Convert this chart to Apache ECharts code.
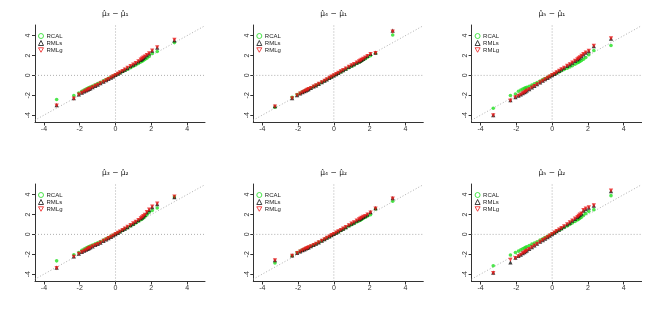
<!DOCTYPE html>
<html><head><meta charset="utf-8">
<script src="https://cdn.jsdelivr.net/npm/echarts@6/dist/echarts.min.js"></script>
<style>html,body{margin:0;padding:0;background:#fff}#c{width:655px;height:317px}</style>
</head><body><div id="c"></div>
<script>
// theoretical normal quantiles (x positions)
const qx = [-3.29,-2.33,-2.05,-1.88,-1.75,-1.64,-1.55,-1.48,-1.41,-1.28,-1.13,-0.99,-0.84,-0.67,-0.52,-0.39,-0.25,-0.13,0,0.13,0.25,0.39,0.52,0.67,0.84,0.99,1.13,1.28,1.41,1.48,1.55,1.64,1.75,1.88,2.05,2.33,3.29];
const seriesNames = ['RCAL','RMLs','RMLg'];
const panelTitles = ['\u03bc\u0302\u2083 \u2212 \u03bc\u0302\u2081','\u03bc\u0302\u2084 \u2212 \u03bc\u0302\u2081','\u03bc\u0302\u2085 \u2212 \u03bc\u0302\u2081','\u03bc\u0302\u2083 \u2212 \u03bc\u0302\u2082','\u03bc\u0302\u2084 \u2212 \u03bc\u0302\u2082','\u03bc\u0302\u2085 \u2212 \u03bc\u0302\u2082'];
const tickValues = [-4,-2,0,2,4];

// panel 1: mu3 - mu1
const rcal1 = [-2.43,-2.03,-1.77,-1.6,-1.47,-1.38,-1.3,-1.24,-1.18,-1.07,-0.94,-0.82,-0.69,-0.55,-0.42,-0.3,-0.18,-0.07,0.04,0.15,0.26,0.38,0.5,0.63,0.78,0.92,1.05,1.2,1.34,1.42,1.5,1.6,1.73,1.9,2.2,2.4,3.3];
const rmls1 = [-3.0,-2.3,-1.92,-1.74,-1.61,-1.52,-1.44,-1.37,-1.31,-1.19,-1.05,-0.93,-0.79,-0.63,-0.49,-0.36,-0.22,-0.09,0.04,0.17,0.3,0.44,0.58,0.74,0.92,1.08,1.23,1.41,1.56,1.66,1.76,1.88,2.03,2.2,2.48,2.8,3.52];
const rmlg1 = [-3.03,-2.33,-1.93,-1.75,-1.62,-1.53,-1.45,-1.38,-1.32,-1.2,-1.06,-0.94,-0.8,-0.64,-0.5,-0.37,-0.23,-0.1,0.03,0.16,0.3,0.44,0.58,0.75,0.93,1.09,1.24,1.42,1.58,1.68,1.78,1.9,2.05,2.22,2.5,2.83,3.57];
// panel 2: mu4 - mu1
const rcal2 = [-3.2,-2.2,-1.93,-1.78,-1.66,-1.57,-1.49,-1.43,-1.37,-1.26,-1.12,-1.0,-0.86,-0.7,-0.55,-0.42,-0.28,-0.15,-0.02,0.1,0.22,0.35,0.48,0.62,0.78,0.92,1.05,1.2,1.33,1.4,1.48,1.57,1.68,1.82,1.97,2.23,4.07];
const rmls2 = [-3.1,-2.28,-1.98,-1.82,-1.69,-1.59,-1.51,-1.44,-1.38,-1.26,-1.12,-1.0,-0.85,-0.68,-0.53,-0.4,-0.26,-0.12,0.01,0.13,0.26,0.4,0.53,0.68,0.85,1.0,1.13,1.29,1.42,1.49,1.57,1.67,1.8,1.95,2.15,2.3,4.5];
const rmlg2 = [-3.13,-2.3,-2.0,-1.83,-1.7,-1.6,-1.52,-1.45,-1.39,-1.27,-1.13,-1.01,-0.86,-0.69,-0.54,-0.4,-0.26,-0.13,0.0,0.13,0.26,0.4,0.53,0.68,0.85,1.0,1.13,1.29,1.42,1.5,1.57,1.67,1.8,1.95,2.13,2.25,4.4];
// panel 3: mu5 - mu1
const rcal3 = [-3.3,-2.03,-1.87,-1.6,-1.47,-1.38,-1.31,-1.26,-1.2,-1.09,-0.96,-0.84,-0.71,-0.56,-0.43,-0.31,-0.19,-0.08,0.03,0.13,0.23,0.35,0.46,0.59,0.72,0.85,0.97,1.12,1.26,1.33,1.4,1.5,1.63,1.8,2.07,2.5,3.0];
const rmls3 = [-4.0,-2.5,-2.18,-2.03,-1.91,-1.78,-1.68,-1.6,-1.52,-1.38,-1.21,-1.06,-0.89,-0.7,-0.54,-0.39,-0.25,-0.11,0.03,0.16,0.3,0.45,0.6,0.77,0.95,1.11,1.27,1.46,1.61,1.7,1.8,1.94,2.1,2.28,2.45,2.95,3.7];
const rmlg3 = [-4.03,-2.53,-2.2,-2.05,-1.93,-1.8,-1.7,-1.62,-1.54,-1.4,-1.22,-1.07,-0.9,-0.71,-0.55,-0.4,-0.26,-0.12,0.02,0.16,0.3,0.45,0.6,0.77,0.96,1.12,1.28,1.47,1.62,1.72,1.82,1.96,2.13,2.3,2.47,2.97,3.73];
// panel 4: mu3 - mu2
const rcal4 = [-2.66,-2.05,-1.82,-1.6,-1.47,-1.38,-1.3,-1.24,-1.18,-1.07,-0.95,-0.85,-0.72,-0.57,-0.44,-0.32,-0.2,-0.08,0.03,0.15,0.27,0.4,0.53,0.68,0.85,1.0,1.14,1.32,1.47,1.56,1.66,1.78,1.98,2.2,2.4,2.65,3.77];
const rmls4 = [-3.35,-2.22,-1.93,-1.76,-1.64,-1.54,-1.45,-1.38,-1.32,-1.2,-1.07,-0.96,-0.82,-0.66,-0.51,-0.38,-0.24,-0.1,0.03,0.16,0.29,0.44,0.58,0.74,0.92,1.09,1.25,1.44,1.6,1.7,1.8,1.95,2.22,2.45,2.75,3.05,3.75];
const rmlg4 = [-3.4,-2.25,-1.95,-1.78,-1.65,-1.55,-1.46,-1.39,-1.33,-1.21,-1.08,-0.97,-0.83,-0.66,-0.52,-0.38,-0.24,-0.11,0.02,0.16,0.29,0.44,0.59,0.75,0.93,1.1,1.26,1.45,1.62,1.72,1.83,1.97,2.25,2.5,2.8,3.1,3.8];
// panel 5: mu4 - mu2
const rcal5 = [-2.87,-2.15,-1.82,-1.68,-1.57,-1.49,-1.42,-1.36,-1.3,-1.19,-1.06,-0.94,-0.8,-0.64,-0.5,-0.37,-0.23,-0.11,0.01,0.13,0.25,0.38,0.52,0.67,0.84,0.98,1.1,1.24,1.36,1.42,1.5,1.6,1.72,1.84,1.98,2.55,3.33];
const rmls5 = [-2.6,-2.12,-1.86,-1.71,-1.59,-1.5,-1.42,-1.36,-1.3,-1.19,-1.06,-0.94,-0.8,-0.63,-0.48,-0.34,-0.2,-0.07,0.05,0.17,0.3,0.44,0.58,0.74,0.92,1.07,1.21,1.37,1.51,1.59,1.66,1.75,1.84,1.99,2.25,2.65,3.65];
const rmlg5 = [-2.62,-2.15,-1.88,-1.72,-1.6,-1.51,-1.43,-1.37,-1.31,-1.2,-1.07,-0.95,-0.81,-0.64,-0.49,-0.35,-0.21,-0.08,0.04,0.17,0.3,0.44,0.58,0.74,0.92,1.08,1.22,1.38,1.52,1.6,1.67,1.76,1.85,2.0,2.2,2.6,3.6];
// panel 6: mu5 - mu2
const rcal6 = [-3.16,-2.08,-1.82,-1.68,-1.56,-1.45,-1.37,-1.3,-1.24,-1.12,-0.98,-0.87,-0.74,-0.58,-0.45,-0.33,-0.2,-0.08,0.04,0.16,0.28,0.41,0.54,0.69,0.85,1.0,1.14,1.3,1.45,1.53,1.62,1.73,1.92,2.1,2.32,2.49,3.9];
const rmls6 = [-3.85,-2.82,-2.35,-2.17,-2.03,-1.88,-1.78,-1.69,-1.61,-1.46,-1.29,-1.12,-0.94,-0.74,-0.57,-0.42,-0.27,-0.12,0.03,0.18,0.32,0.48,0.64,0.81,1.01,1.19,1.37,1.56,1.73,1.84,1.95,2.08,2.4,2.55,2.68,2.9,4.35];
const rmlg6 = [-3.9,-2.55,-2.39,-2.2,-2.05,-1.9,-1.8,-1.71,-1.63,-1.48,-1.3,-1.13,-0.95,-0.75,-0.58,-0.43,-0.28,-0.13,0.02,0.17,0.32,0.48,0.64,0.82,1.02,1.2,1.38,1.58,1.75,1.86,1.98,2.1,2.45,2.6,2.72,2.92,4.4];

const panels = [[rcal1,rmls1,rmlg1],[rcal2,rmls2,rmlg2],[rcal3,rmls3,rmlg3],[rcal4,rmls4,rmlg4],[rcal5,rmls5,rmlg5],[rcal6,rmls6,rmlg6]];

const colLeft = [35, 253.3, 471.6];
const rowTop = [25, 184];
const GW = 170, GH = 97.5;
const XMIN = -4.5, XMAX = 5, YMIN = -4.74, YMAX = 5.07;
const COLORS = ['#22e022', '#111111', '#ee1c1c'];
const FONT = 'Liberation Sans';

const grid = [], xAxis = [], yAxis = [], series = [], legend = [], graphic = [];
for (let p = 0; p < 6; p++) {
  const c = p % 3, r = Math.floor(p / 3);
  grid.push({left: colLeft[c], top: rowTop[r], width: GW, height: GH});
  const axisCommon = {
    type: 'value', gridIndex: p, splitLine: {show: false},
    axisLine: {show: true, onZero: false, lineStyle: {color: '#333', width: 1}},
    axisTick: {show: true, length: 3, inside: false, customValues: tickValues, lineStyle: {color: '#333'}},
    axisLabel: {customValues: tickValues, fontSize: 7, color: '#333', fontFamily: FONT, margin: 3}
  };
  xAxis.push(Object.assign({}, axisCommon, {min: XMIN, max: XMAX}));
  yAxis.push(Object.assign({}, axisCommon, {min: YMIN, max: YMAX,
    axisLabel: Object.assign({}, axisCommon.axisLabel, {rotate: 90, margin: 3})}));
  // reference lines
  const dotted = {type: [1, 2], color: '#9a9a9a', width: 0.8};
  series.push({type: 'line', xAxisIndex: p, yAxisIndex: p, silent: true, showSymbol: false, clip: false,
    data: [[-5.1, -5.1], [XMAX, XMAX]], lineStyle: dotted, z: 1});
  series.push({type: 'line', xAxisIndex: p, yAxisIndex: p, silent: true, showSymbol: false,
    data: [[XMIN, 0], [XMAX, 0]], lineStyle: dotted, z: 1});
  series.push({type: 'line', xAxisIndex: p, yAxisIndex: p, silent: true, showSymbol: false,
    data: [[0, YMIN], [0, YMAX]], lineStyle: dotted, z: 1});
  // data
  const syms = ['circle', 'triangle', 'triangle'];
  const rots = [0, 0, 180];
  const sizes = [3.6, 4.2, 4.2];
  panels[p].forEach((ys, k) => {
    series.push({type: 'scatter', name: seriesNames[k], xAxisIndex: p, yAxisIndex: p,
      symbol: syms[k], symbolRotate: rots[k], symbolSize: sizes[k], z: 2 + k,
      itemStyle: {color: COLORS[k]},
      data: qx.map((x, i) => [x, ys[i]])});
  });
  legend.push({orient: 'vertical', left: colLeft[c] + 3, top: rowTop[r] + 8,
    itemWidth: 5, itemHeight: 5, itemGap: 1, padding: 0,
    textStyle: {fontSize: 6, color: '#222', fontFamily: FONT, padding: [0, 0, 0, -2]},
    selectedMode: false,
    data: [
      {name: 'RCAL', icon: 'circle', itemStyle: {color: 'rgba(0,0,0,0)', borderColor: COLORS[0], borderWidth: 1}},
      {name: 'RMLs', icon: 'triangle', itemStyle: {color: 'rgba(0,0,0,0)', borderColor: COLORS[1], borderWidth: 1}},
      {name: 'RMLg', icon: 'path://M0,0L10,0L5,9Z', itemStyle: {color: 'rgba(0,0,0,0)', borderColor: COLORS[2], borderWidth: 1}}
    ]});
  graphic.push({type: 'text', x: colLeft[c] + 80.3, y: rowTop[r] - 11,
    style: {text: panelTitles[p], fontSize: 7.5, fontFamily: 'DejaVu Sans', fill: '#111', align: 'center', verticalAlign: 'middle'}});
}

const chart = echarts.init(document.getElementById('c'), null, {renderer: 'canvas'});
chart.setOption({
  animation: false, backgroundColor: '#fff',
  grid, xAxis, yAxis, series, legend, graphic
});
</script>
</body></html>
